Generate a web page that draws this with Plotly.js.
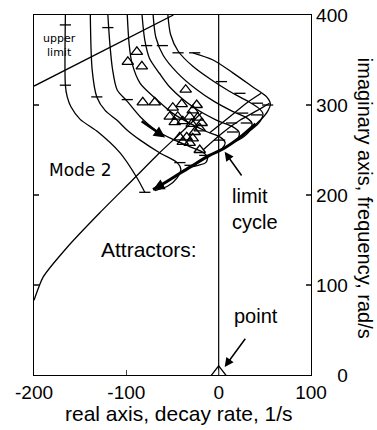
<!DOCTYPE html>
<html>
<head>
<meta charset="utf-8">
<script src="https://cdn.plot.ly/plotly-3.0.1.min.js"></script>
<style>html,body{margin:0;padding:0;background:#fff;}#chart{width:377px;height:430px;}</style>
</head>
<body>
<div id="chart"></div>
<script>
// Locus curves (real part, imaginary part)
const c1x = [-166,-166,-164,-160,-150,-132,-107,-89,-80];
const c1y = [400,322,309,298,284,271,247,220,203];
const c2x = [-139,-137,-132,-123,-110,-99,-85,-64,-45,-41,-45,-55,-69];
const c2y = [400,339,309,294,283,272,261,247,236,229,219,210,205];
const c3x = [-120,-118,-115,-110,-99,-85,-68,-50,-32,-18,-12,-14,-22,-31];
const c3y = [400,370,340,317,304,287,272,262,254,248,242,236,233,231];
const c4x = [-99,-97,-94,-85,-67,-50,-30,-12,2,7,4,-4,-10];
const c4y = [400,368,347,324,306,291,279,270,264,258,252,247,244];
const c5x = [-83,-80,-75,-64,-53,-28,-2,15,22,21,14,6];
const c5y = [400,372,352,335,320,298,283,276,270,263,257,252];
const c6x = [-71,-68,-60,-45,-25,-5,15,30,36,34,26,15];
const c6y = [400,375,355,336,318,304,293,286,280,272,264,258];
const c7x = [-55,-52,-44,-28,-8,12,32,44,48,45,36,25];
const c7y = [400,378,360,343,328,315,304,296,290,282,273,266];
const c8x = [-28,-6,15,37,52,56,53,45,35];
const c8y = [358,350,336,320,309,301,293,283,274];
// converging limit-cycle bundle
const bundleX = [40,23,6,-10,-31,-53,-71];
const bundleY = [279,264,252,244,231,217,206];
// Mode 2 line and cross lines
const mode2X = [-200,-190,-164,-129,-93,-64,-42,-18];
const mode2Y = [83,109,142,180,217,247,268,292];
const cross2X = [-17,4,23,42,55];
const cross2Y = [250,269,283,294,302];
const cross3X = [-10,12,30,46];
const cross3Y = [269,287,302,313];
// upper limit line
const upperX = [-200,-49];
const upperY = [321,400];
// imaginary axis line
const zeroX = [0,0];
const zeroY = [0,400];
// tick marks on curves
const tickX = [-166,-166,-132,-99,-120,-78,-61,-44,-26,-80,-42,3,23,42,53,26,41,14,30,15,1,-15,-31];
const tickY = [389,322,309,306,386,366,366,358,358,203,236,326,313,302,300,291,289,280,280,270,261,244,233];
// measured points (triangles)
const triX = [-88.6,-98.4,-83.2,-82.2,-69.2,-35.7,-40,-23.8,-49.7,-28.1,-53,-44.3,-31.4,-22.7,-47.6,-38.9,-29.2,-18.4,-42.2,-34.6,-25.9,-20.5,-38.9,-31.4,-28.1,-20.5];
const triY = [359,348,343,303,303,317,301,300,297,294,287,287,287,286,281,282,279,280,264,264,270,274,259,258,263,250];
const pointX = [0];
const pointY = [3];
// axis ticks
const xTickVals = [-200,-100,0,100];
const xTickText = ['-200','-100','0','100'];
const yTickVals = [0,100,200,300,400];
const yTickText = ['\u2007\u20070','100','200','300','400'];

const thin = {color:'black', width:1.3, shape:'spline', smoothing:0.8};
function line(x, y, extra) {
  return Object.assign({x:x, y:y, mode:'lines', line:Object.assign({}, thin), hoverinfo:'skip', showlegend:false}, extra||{});
}
const traces = [
  line(c1x,c1y), line(c2x,c2y), line(c3x,c3y), line(c4x,c4y),
  line(c5x,c5y), line(c6x,c6y), line(c7x,c7y), line(c8x,c8y),
  line(bundleX,bundleY,{line:{color:'black',width:3,shape:'spline'}}),
  line(mode2X,mode2Y,{line:{color:'black',width:1.3,shape:'spline',smoothing:0.6}}),
  line(cross2X,cross2Y), line(cross3X,cross3Y),
  line(upperX,upperY,{line:{color:'black',width:1.3}}),
  line(zeroX,zeroY,{line:{color:'black',width:1.2}}),
  {x:tickX, y:tickY, mode:'markers', marker:{symbol:'line-ew', size:8, line:{color:'black', width:1.3}}, showlegend:false, hoverinfo:'skip'},
  {x:triX, y:triY, mode:'markers', marker:{symbol:'triangle-up-open', size:10, color:'black', line:{color:'black', width:1.3}}, showlegend:false},
  {x:pointX, y:pointY, mode:'markers', marker:{symbol:'triangle-up-open', size:13, color:'black', line:{color:'black', width:1.3}}, showlegend:false}
];

const F = 'Liberation Sans, Arial, Helvetica, sans-serif';
const layout = {
  width:377, height:430,
  margin:{l:34, r:66, t:15, b:55, pad:0},
  paper_bgcolor:'white', plot_bgcolor:'white',
  showlegend:false,
  font:{family:F, color:'black'},
  xaxis:{range:[-200,100], tickmode:'array', tickvals:xTickVals, ticktext:xTickText, ticks:'inside', ticklen:5, tickwidth:1.2,
         showline:true, linecolor:'black', linewidth:1.3, mirror:true, showgrid:false, zeroline:false,
         tickfont:{family:F, size:19, color:'black'}},
  yaxis:{range:[0,400], tickmode:'array', tickvals:yTickVals, ticktext:yTickText, side:'right', ticks:'inside', ticklen:5, tickwidth:1.2,
         showline:true, linecolor:'black', linewidth:1.3, mirror:'ticks', showgrid:false, zeroline:false,
         tickfont:{family:F, size:19, color:'black'}},
  annotations:[
    {xref:'paper', yref:'paper', x:0.522, y:-0.106, text:'real axis, decay rate, 1/s', showarrow:false,
     font:{family:F, size:21}, xanchor:'center', yanchor:'middle'},
    {xref:'paper', yref:'paper', x:1.195, y:0.492, text:'imaginary axis, frequency, rad/s', showarrow:false,
     textangle:90, font:{family:F, size:20}, xanchor:'center', yanchor:'middle'},
    {x:-172, y:366, text:'upper<br>limit', showarrow:false, font:{family:'DejaVu Sans', size:11}, align:'center'},
    {x:-150, y:228, text:'Mode 2', showarrow:false, font:{family:'DejaVu Sans', size:17}},
    {x:-75, y:139, text:'Attractors:', showarrow:false, font:{family:F, size:21}},
    {x:12, y:184, text:'limit<br>cycle', showarrow:false, font:{family:F, size:20}, xanchor:'left', align:'left'},
    {x:40, y:66, text:'point', showarrow:false, font:{family:F, size:20}},
    {x:6.5, y:9, ax:30, ay:42, axref:'x', ayref:'y', text:'', showarrow:true, arrowhead:2, arrowsize:1.2, arrowwidth:1.5, arrowcolor:'black'},
    {x:6.5, y:248, ax:26, ay:220, axref:'x', ayref:'y', text:'', showarrow:true, arrowhead:2, arrowsize:1.2, arrowwidth:1.5, arrowcolor:'black'},
    {x:-58, y:264, ax:-85, ay:283, axref:'x', ayref:'y', text:'', showarrow:true, arrowhead:2, arrowsize:0.9, arrowwidth:2.5, arrowcolor:'black'},
    {x:-71, y:206, ax:-58, ay:213, axref:'x', ayref:'y', text:'', showarrow:true, arrowhead:2, arrowsize:0.9, arrowwidth:2.5, arrowcolor:'black'}
  ]
};
Plotly.newPlot('chart', traces, layout, {staticPlot:true, displayModeBar:false});
</script>
</body>
</html>
